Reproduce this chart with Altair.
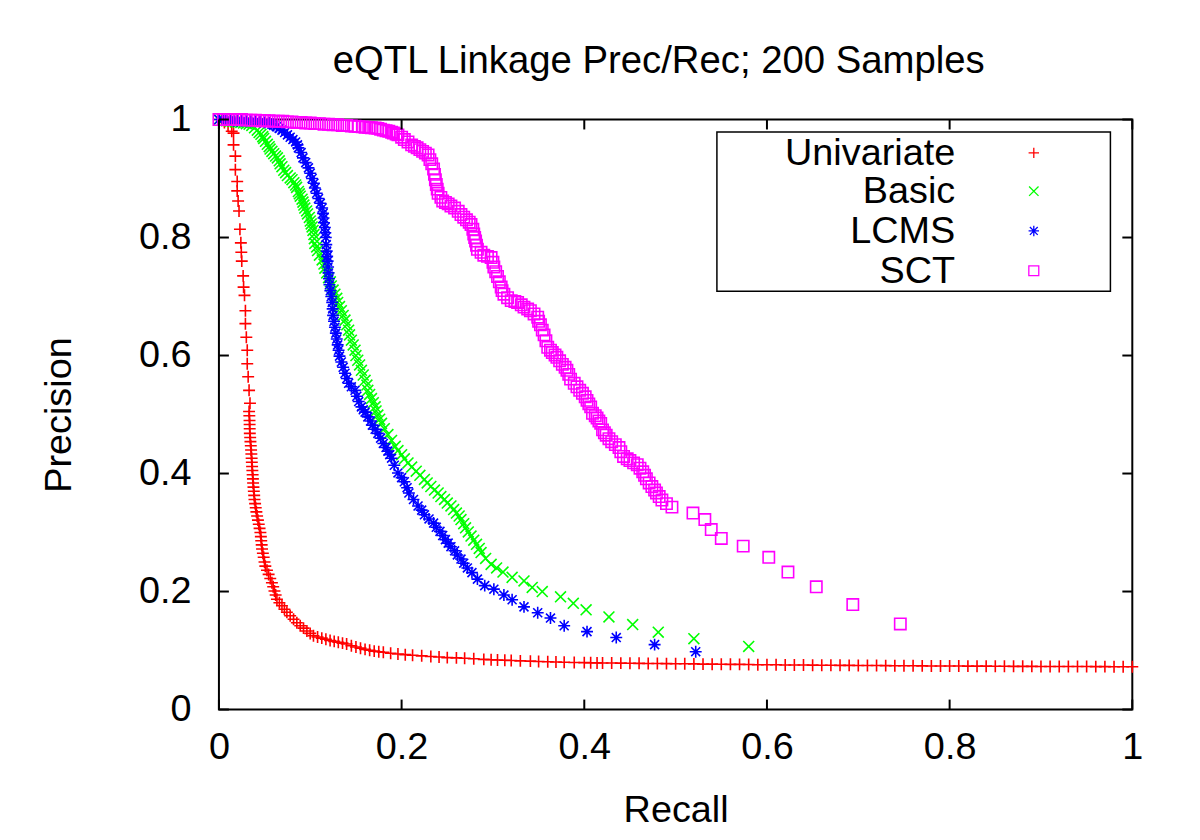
import altair as alt
import pandas as pd

TITLE = "eQTL Linkage Prec/Rec; 200 Samples"
SERIES = ["Univariate", "Basic", "LCMS", "SCT"]
COLORS = ["#ff0000", "#00ff00", "#0000ff", "#ff00ff"]
TICKS = [0, 0.2, 0.4, 0.6, 0.8, 1.0]

UNIVARIATE = [
    (0.000, 1.000), (0.003, 1.000), (0.006, 0.995), (0.010, 0.990), (0.014, 0.980),
    (0.016, 0.977), (0.016, 0.957), (0.018, 0.938), (0.018, 0.915), (0.020, 0.895),
    (0.020, 0.879), (0.021, 0.862), (0.022, 0.845), (0.023, 0.814), (0.024, 0.791),
    (0.0245, 0.775), (0.025, 0.760), (0.0265, 0.735), (0.027, 0.716), (0.028, 0.702),
    (0.029, 0.676), (0.029, 0.654), (0.030, 0.631), (0.031, 0.609), (0.031, 0.586),
    (0.032, 0.564), (0.033, 0.541), (0.034, 0.519), (0.0330, 0.505), (0.0333, 0.498),
    (0.0335, 0.490), (0.0336, 0.483), (0.0337, 0.476), (0.0338, 0.468), (0.0342, 0.461),
    (0.0345, 0.454), (0.0349, 0.447), (0.0352, 0.440), (0.0355, 0.433), (0.0358, 0.426),
    (0.0360, 0.419), (0.0363, 0.412), (0.0366, 0.405), (0.0369, 0.398), (0.0372, 0.391),
    (0.0374, 0.384), (0.0378, 0.377), (0.0382, 0.370), (0.0386, 0.363), (0.0389, 0.356),
    (0.0396, 0.349), (0.0403, 0.342), (0.0410, 0.335), (0.0418, 0.328), (0.0427, 0.321),
    (0.0436, 0.314), (0.0445, 0.307), (0.0454, 0.300), (0.0459, 0.293), (0.0463, 0.286),
    (0.0468, 0.279), (0.0472, 0.272), (0.0481, 0.265), (0.0490, 0.258), (0.0499, 0.250),
    (0.0508, 0.243), (0.0526, 0.236), (0.0544, 0.229), (0.0562, 0.222), (0.0580, 0.215),
    (0.0594, 0.208), (0.0608, 0.201), (0.0621, 0.194), (0.0635, 0.187), (0.0662, 0.181),
    (0.0690, 0.176), (0.0717, 0.170), (0.0744, 0.165), (0.0780, 0.159), (0.0817, 0.153),
    (0.0853, 0.147), (0.0890, 0.142), (0.0926, 0.138), (0.0963, 0.133), (0.0999, 0.129),
    (0.1035, 0.125), (0.1080, 0.123), (0.1126, 0.121), (0.1171, 0.119), (0.1217, 0.117),
    (0.1262, 0.1155), (0.1307, 0.114), (0.1353, 0.1125), (0.1398, 0.111), (0.145, 0.108),
    (0.150, 0.106), (0.155, 0.104), (0.160, 0.102), (0.165, 0.1005), (0.170, 0.099),
    (0.175, 0.098), (0.180, 0.097), (0.188, 0.0955), (0.196, 0.094), (0.204, 0.093),
    (0.212, 0.092), (0.222, 0.091), (0.232, 0.090), (0.241, 0.089), (0.250, 0.088),
    (0.260, 0.0875), (0.269, 0.087), (0.279, 0.086), (0.290, 0.085), (0.298, 0.0845),
    (0.305, 0.084), (0.313, 0.0835), (0.320, 0.083), (0.330, 0.0825), (0.341, 0.082),
    (0.350, 0.0815), (0.360, 0.081), (0.369, 0.0805), (0.378, 0.080), (0.389, 0.0798),
    (0.400, 0.0795), (0.407, 0.0792), (0.414, 0.079), (0.42, 0.0789), (0.43, 0.0788),
    (0.44, 0.0786), (0.45, 0.0785), (0.46, 0.0783), (0.47, 0.0780), (0.48, 0.0779),
    (0.49, 0.0778), (0.50, 0.0776), (0.51, 0.0775), (0.52, 0.0773), (0.53, 0.0770),
    (0.54, 0.0769), (0.55, 0.0768), (0.56, 0.0766), (0.57, 0.0765), (0.58, 0.0763),
    (0.59, 0.0760), (0.60, 0.0759), (0.61, 0.0758), (0.62, 0.0756), (0.63, 0.0755),
    (0.64, 0.0754), (0.65, 0.0752), (0.66, 0.0751), (0.67, 0.0750), (0.68, 0.0749),
    (0.69, 0.0748), (0.70, 0.0747), (0.71, 0.0746), (0.72, 0.0745), (0.73, 0.0744),
    (0.74, 0.0743), (0.75, 0.0742), (0.76, 0.0741), (0.77, 0.0740), (0.78, 0.0739),
    (0.79, 0.0738), (0.80, 0.0738), (0.81, 0.0737), (0.82, 0.0736), (0.83, 0.0735),
    (0.84, 0.0735), (0.85, 0.0734), (0.86, 0.0733), (0.87, 0.0732), (0.88, 0.0732),
    (0.89, 0.0731), (0.90, 0.0730), (0.91, 0.0730), (0.92, 0.0729), (0.93, 0.0729),
    (0.94, 0.0728), (0.95, 0.0728), (0.96, 0.0727), (0.97, 0.0727), (0.98, 0.0726),
    (0.99, 0.0726), (1.00, 0.0725),
]

BASIC = [
    (0.000, 1.000), (0.004, 1.000), (0.008, 0.998), (0.012, 0.997), (0.015, 0.9965),
    (0.018, 0.996), (0.021, 0.9955), (0.024, 0.995), (0.027, 0.994), (0.030, 0.993),
    (0.033, 0.992), (0.036, 0.990), (0.039, 0.986), (0.042, 0.982), (0.044, 0.978),
    (0.046, 0.975), (0.048, 0.971), (0.049, 0.968), (0.051, 0.963), (0.053, 0.958),
    (0.055, 0.954), (0.056, 0.950), (0.058, 0.946), (0.060, 0.942), (0.062, 0.938),
    (0.064, 0.935), (0.066, 0.930), (0.067, 0.925), (0.069, 0.920), (0.071, 0.914),
    (0.073, 0.910), (0.075, 0.905), (0.078, 0.901), (0.080, 0.898), (0.082, 0.893),
    (0.084, 0.889), (0.085, 0.885), (0.087, 0.878), (0.088, 0.874), (0.089, 0.870),
    (0.091, 0.865), (0.092, 0.860), (0.093, 0.855), (0.094, 0.850), (0.096, 0.845),
    (0.097, 0.840), (0.099, 0.834), (0.100, 0.828), (0.101, 0.823), (0.102, 0.818),
    (0.103, 0.812), (0.104, 0.805), (0.1045, 0.798), (0.105, 0.790), (0.107, 0.784),
    (0.108, 0.778), (0.110, 0.770), (0.113, 0.762), (0.115, 0.755), (0.116, 0.748),
    (0.118, 0.740), (0.120, 0.732), (0.122, 0.725), (0.123, 0.718), (0.125, 0.711),
    (0.127, 0.704), (0.129, 0.697), (0.130, 0.690), (0.132, 0.683), (0.134, 0.676),
    (0.136, 0.668), (0.138, 0.660), (0.140, 0.652), (0.142, 0.643), (0.143, 0.635),
    (0.145, 0.626), (0.147, 0.618), (0.149, 0.609), (0.150, 0.600), (0.152, 0.592),
    (0.154, 0.584), (0.156, 0.575), (0.158, 0.567), (0.160, 0.558), (0.162, 0.550),
    (0.163, 0.541), (0.165, 0.534), (0.167, 0.527), (0.169, 0.520), (0.171, 0.513),
    (0.172, 0.506), (0.174, 0.499), (0.176, 0.492), (0.178, 0.485), (0.181, 0.476),
    (0.185, 0.466), (0.189, 0.456), (0.193, 0.446), (0.196, 0.439), (0.200, 0.432),
    (0.203, 0.425), (0.207, 0.418), (0.211, 0.411), (0.216, 0.404), (0.220, 0.397),
    (0.225, 0.390), (0.228, 0.384), (0.232, 0.378), (0.236, 0.372), (0.240, 0.367),
    (0.243, 0.361), (0.247, 0.356), (0.250, 0.350), (0.254, 0.345), (0.257, 0.339),
    (0.260, 0.333), (0.263, 0.328), (0.265, 0.322), (0.268, 0.315), (0.270, 0.308),
    (0.273, 0.301), (0.276, 0.294), (0.279, 0.287), (0.282, 0.280), (0.285, 0.273),
    (0.287, 0.266), (0.292, 0.256), (0.298, 0.246), (0.304, 0.240), (0.311, 0.233),
    (0.321, 0.224), (0.334, 0.218), (0.343, 0.207), (0.354, 0.200), (0.374, 0.191),
    (0.388, 0.180), (0.402, 0.169), (0.427, 0.157), (0.453, 0.144), (0.481, 0.131),
    (0.520, 0.120), (0.580, 0.107),
]

LCMS = [
    (0.000, 1.000), (0.004, 1.000), (0.008, 0.999), (0.012, 0.999), (0.016, 0.998),
    (0.020, 0.998), (0.025, 0.998), (0.030, 0.997), (0.035, 0.997), (0.040, 0.997),
    (0.045, 0.996), (0.050, 0.995), (0.055, 0.994), (0.058, 0.992), (0.060, 0.990),
    (0.063, 0.988), (0.066, 0.985), (0.069, 0.982), (0.072, 0.978), (0.075, 0.974),
    (0.078, 0.970), (0.081, 0.966), (0.084, 0.962), (0.086, 0.957), (0.087, 0.952),
    (0.090, 0.944), (0.092, 0.935), (0.095, 0.927), (0.098, 0.918), (0.100, 0.909),
    (0.102, 0.900), (0.104, 0.892), (0.105, 0.884), (0.107, 0.875), (0.109, 0.866),
    (0.111, 0.858), (0.113, 0.850), (0.114, 0.841), (0.1145, 0.833), (0.115, 0.825),
    (0.116, 0.817), (0.1165, 0.808), (0.117, 0.800), (0.1175, 0.788), (0.118, 0.777),
    (0.1185, 0.768), (0.119, 0.760), (0.1195, 0.750), (0.120, 0.740), (0.1205, 0.730),
    (0.121, 0.720), (0.122, 0.710), (0.123, 0.700), (0.124, 0.690), (0.1245, 0.679),
    (0.125, 0.668), (0.126, 0.658), (0.127, 0.648), (0.128, 0.638), (0.129, 0.628),
    (0.130, 0.618), (0.131, 0.609), (0.132, 0.599), (0.134, 0.589), (0.136, 0.580),
    (0.138, 0.570), (0.140, 0.561), (0.142, 0.553), (0.145, 0.547), (0.149, 0.541),
    (0.151, 0.531), (0.153, 0.522), (0.156, 0.513), (0.158, 0.508), (0.160, 0.504),
    (0.163, 0.496), (0.166, 0.489), (0.168, 0.482), (0.171, 0.475), (0.174, 0.468),
    (0.177, 0.460), (0.180, 0.451), (0.183, 0.444), (0.185, 0.438), (0.187, 0.432),
    (0.189, 0.426), (0.192, 0.414), (0.196, 0.401), (0.200, 0.393), (0.203, 0.386),
    (0.206, 0.376), (0.208, 0.367), (0.213, 0.356), (0.218, 0.345), (0.222, 0.338),
    (0.225, 0.330), (0.230, 0.323), (0.235, 0.316), (0.238, 0.309), (0.242, 0.302),
    (0.245, 0.295), (0.248, 0.288), (0.251, 0.282), (0.254, 0.276), (0.258, 0.269),
    (0.261, 0.262), (0.265, 0.255), (0.268, 0.248), (0.272, 0.240), (0.277, 0.232),
    (0.283, 0.221), (0.291, 0.210), (0.301, 0.204), (0.312, 0.194), (0.321, 0.186),
    (0.334, 0.174), (0.349, 0.164), (0.363, 0.155), (0.378, 0.142), (0.403, 0.132),
    (0.435, 0.122), (0.477, 0.110), (0.522, 0.098),
]

SCT = [
    (0.000, 1.000), (0.005, 1.000), (0.010, 1.000), (0.015, 1.000), (0.020, 1.000),
    (0.025, 1.000), (0.030, 0.999), (0.035, 0.999), (0.040, 0.999), (0.045, 0.998),
    (0.050, 0.998), (0.055, 0.998), (0.060, 0.997), (0.065, 0.997), (0.070, 0.997),
    (0.075, 0.996), (0.080, 0.996), (0.085, 0.995), (0.090, 0.995), (0.095, 0.994),
    (0.100, 0.994), (0.105, 0.993), (0.110, 0.993), (0.115, 0.992), (0.120, 0.992),
    (0.125, 0.991), (0.130, 0.991), (0.135, 0.990), (0.140, 0.990), (0.145, 0.989),
    (0.149, 0.9885), (0.153, 0.988), (0.157, 0.9875), (0.160, 0.987), (0.164, 0.9865),
    (0.167, 0.986), (0.171, 0.9855), (0.174, 0.985), (0.177, 0.9835), (0.180, 0.982),
    (0.183, 0.981), (0.186, 0.980), (0.189, 0.9785), (0.191, 0.977), (0.194, 0.9755),
    (0.196, 0.974), (0.200, 0.970), (0.203, 0.966), (0.207, 0.962), (0.211, 0.957),
    (0.214, 0.9545), (0.217, 0.952), (0.220, 0.949), (0.223, 0.946), (0.226, 0.943),
    (0.229, 0.940), (0.231, 0.932), (0.233, 0.925), (0.235, 0.916), (0.236, 0.907),
    (0.237, 0.898), (0.238, 0.890), (0.239, 0.882), (0.240, 0.875), (0.243, 0.868),
    (0.245, 0.862), (0.248, 0.8595), (0.251, 0.857), (0.254, 0.8535), (0.258, 0.850),
    (0.262, 0.8445), (0.265, 0.839), (0.268, 0.8345), (0.271, 0.830), (0.274, 0.826),
    (0.276, 0.822), (0.278, 0.814), (0.279, 0.806), (0.280, 0.800), (0.281, 0.794),
    (0.282, 0.787), (0.283, 0.780), (0.287, 0.775), (0.290, 0.770), (0.294, 0.768),
    (0.298, 0.766), (0.300, 0.758), (0.301, 0.750), (0.303, 0.742), (0.305, 0.734),
    (0.307, 0.725), (0.309, 0.716), (0.310, 0.710), (0.312, 0.704), (0.316, 0.698),
    (0.320, 0.693), (0.324, 0.6915), (0.327, 0.690), (0.331, 0.686), (0.334, 0.682),
    (0.338, 0.679), (0.341, 0.676), (0.345, 0.6705), (0.349, 0.665), (0.350, 0.658),
    (0.352, 0.652), (0.354, 0.643), (0.356, 0.635), (0.358, 0.625), (0.360, 0.614),
    (0.363, 0.609), (0.365, 0.605), (0.368, 0.601), (0.370, 0.597), (0.373, 0.591),
    (0.376, 0.585), (0.379, 0.580), (0.381, 0.575), (0.383, 0.568), (0.385, 0.560),
    (0.389, 0.553), (0.392, 0.547), (0.395, 0.541), (0.398, 0.536), (0.401, 0.530),
    (0.403, 0.524), (0.405, 0.518), (0.407, 0.513), (0.409, 0.502), (0.412, 0.498),
    (0.414, 0.494), (0.416, 0.489), (0.418, 0.485), (0.420, 0.474), (0.422, 0.469),
    (0.424, 0.465), (0.427, 0.459), (0.430, 0.454), (0.434, 0.449), (0.438, 0.444),
    (0.440, 0.437), (0.443, 0.429), (0.447, 0.425), (0.450, 0.422), (0.454, 0.418),
    (0.458, 0.415), (0.461, 0.409), (0.464, 0.403), (0.466, 0.397), (0.468, 0.391),
    (0.471, 0.384), (0.474, 0.378), (0.477, 0.372), (0.479, 0.367), (0.482, 0.361),
    (0.485, 0.355), (0.490, 0.349), (0.496, 0.343), (0.519, 0.333), (0.532, 0.322),
    (0.539, 0.305), (0.550, 0.290), (0.574, 0.277), (0.602, 0.258), (0.623, 0.233),
    (0.654, 0.208), (0.694, 0.178), (0.746, 0.145),
]

DATA = [UNIVARIATE, BASIC, LCMS, SCT]

FONT = "Liberation Sans"
FS = 38
W, H = 918, 593

SHAPES = [
    "M-1,0L1,0M0,-1L0,1",
    "M-1,-1L1,1M-1,1L1,-1",
    "M-1,0L1,0M0,-1L0,1M-0.75,-0.75L0.75,0.75M-0.75,0.75L0.75,-0.75",
    "square",
]
SIZES = [144, 120, 144, 130]
LEG_SIZES = [110, 90, 110, 100]

xscale = alt.Scale(domain=[0, 1], nice=False, zero=False)
yscale = alt.Scale(domain=[0, 1], nice=False, zero=False)

xaxis = alt.Axis(values=TICKS, format=".1~f", ticks=False, tickSize=0, domain=False, grid=False,
                 labelFont=FONT, labelFontSize=FS, labelColor="black", labelPadding=19,
                 labelFlush=False, labelOverlap=False,
                 title="Recall", titleFont=FONT, titleFontSize=FS, titleFontWeight="normal",
                 titleColor="black", titlePadding=26)
yaxis = alt.Axis(values=TICKS, format=".1~f", ticks=False, tickSize=0, domain=False, grid=False,
                 labelFont=FONT, labelFontSize=FS, labelColor="black", labelPadding=28,
                 labelFlush=False, labelOverlap=False,
                 title="Precision", titleFont=FONT, titleFontSize=FS, titleFontWeight="normal",
                 titleColor="black", titlePadding=60)

layers = []
for i, (name, pts) in enumerate(zip(SERIES, DATA)):
    df = pd.DataFrame({"recall": [p[0] for p in pts], "precision": [p[1] for p in pts]})
    layers.append(
        alt.Chart(df).mark_point(shape=SHAPES[i], size=SIZES[i], filled=False, opacity=1,
                                 strokeWidth=1.6, color=COLORS[i]).encode(
            x=alt.X("recall:Q", scale=xscale, axis=xaxis),
            y=alt.Y("precision:Q", scale=yscale, axis=yaxis),
        )
    )

ticks_df = pd.DataFrame({"recall": TICKS, "precision": TICKS})
tick_style = dict(color="black", strokeWidth=2)
tl = 10
xt_bottom = alt.Chart(ticks_df).mark_rule(**tick_style).encode(
    x=alt.X("recall:Q", scale=xscale, axis=xaxis), y=alt.value(H), y2=alt.value(H - tl))
xt_top = alt.Chart(ticks_df).mark_rule(**tick_style).encode(
    x=alt.X("recall:Q", scale=xscale, axis=xaxis), y=alt.value(0), y2=alt.value(tl))
yt_left = alt.Chart(ticks_df).mark_rule(**tick_style).encode(
    y=alt.Y("precision:Q", scale=yscale, axis=yaxis), x=alt.value(0), x2=alt.value(tl))
yt_right = alt.Chart(ticks_df).mark_rule(**tick_style).encode(
    y=alt.Y("precision:Q", scale=yscale, axis=yaxis), x=alt.value(W), x2=alt.value(W - tl))

# legend box (inside plot, top-right)
LEG_X0, LEG_X1, LEG_Y0, LEG_Y1 = 500.5, 896, 12.5, 172.5
LEG_LABEL_X, LEG_SYM_X = 740, 819
LEG_ROWS = [33.5, 72, 112, 152]

one = pd.DataFrame({"k": [0]})
legend_layers = [
    alt.Chart(one).mark_rect(fill="white", stroke="black", strokeWidth=1.5).encode(
        x=alt.value(LEG_X0), x2=alt.value(LEG_X1), y=alt.value(LEG_Y0), y2=alt.value(LEG_Y1))
]
for i, name in enumerate(SERIES):
    ldf = pd.DataFrame({"label": [name]})
    legend_layers.append(
        alt.Chart(ldf).mark_text(font=FONT, fontSize=FS, align="right", baseline="middle",
                                 color="black", dy=1).encode(
            x=alt.value(LEG_LABEL_X), y=alt.value(LEG_ROWS[i]), text="label:N")
    )
    legend_layers.append(
        alt.Chart(ldf).mark_point(shape=SHAPES[i], size=LEG_SIZES[i], filled=False, opacity=1,
                                  strokeWidth=1.3, color=COLORS[i]).encode(
            x=alt.value(LEG_SYM_X), y=alt.value(LEG_ROWS[i]))
    )

chart = alt.layer(*layers, xt_bottom, xt_top, yt_left, yt_right, *legend_layers).properties(
    width=W, height=H,
    autosize=alt.AutoSizeParams(type="none"),
    padding={"left": 212, "top": 110, "right": 60, "bottom": 119},
    title=alt.Title(TITLE, font=FONT, fontSize=38.5, fontWeight="normal", color="black",
                    anchor="middle", frame="group", dx=-17, dy=55, offset=36, baseline="bottom"),
).configure(background="white").configure_view(stroke="black", strokeWidth=2)

chart.save("out.html", embed_options={"renderer": "svg", "actions": False})
